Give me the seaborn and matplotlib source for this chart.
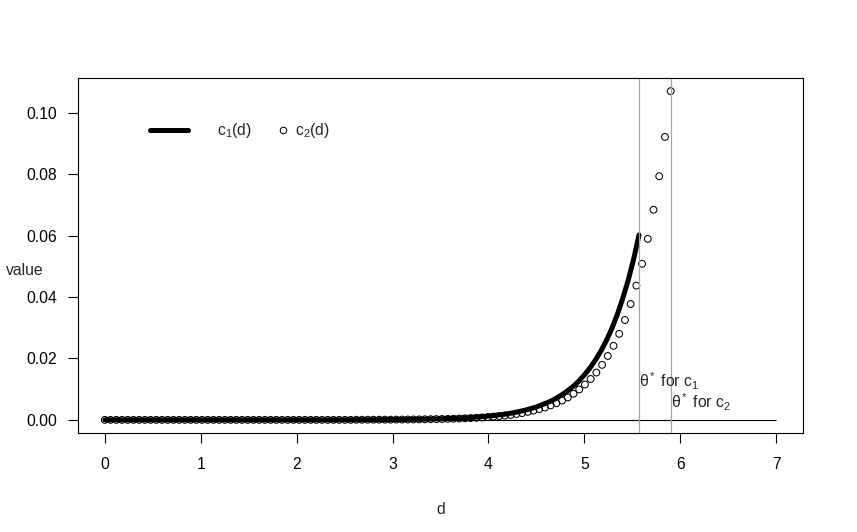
import numpy as np
import seaborn as sns
import matplotlib
matplotlib.use("Agg")
import matplotlib.pyplot as plt
from matplotlib.lines import Line2D

# thresholds (grey vertical lines)
theta1 = 5.57
theta2 = 5.9

# grid of d values for each curve (100 points each)
d1 = np.linspace(0, theta1, 100)
d2 = np.linspace(0, theta2, 100)

# c1(d): thick line
c1 = [0.0] * 44 + [0.00003, 0.00003, 0.00004, 0.00004, 0.00005, 0.00005, 0.00006, 0.00007,
                   0.00008, 0.0001, 0.00011, 0.00013, 0.00015, 0.00017, 0.00019, 0.00022,
                   0.00026, 0.0003, 0.00034, 0.00039, 0.00045, 0.00052, 0.0006, 0.00069,
                   0.00079, 0.00091, 0.00105, 0.0012, 0.0014, 0.0016, 0.0018, 0.0021,
                   0.0024, 0.0028, 0.0032, 0.0037, 0.0042, 0.0049, 0.0056, 0.0064,
                   0.0074, 0.0085, 0.0098, 0.0112, 0.0129, 0.0149, 0.0171, 0.0197,
                   0.0226, 0.0260, 0.0299, 0.0344, 0.0396, 0.0455, 0.0523, 0.0602]

# c2(d): open circles
c2 = [0.0] * 44 + [0.00003, 0.00003, 0.00004, 0.00005, 0.00005, 0.00006, 0.00007, 0.00008,
                   0.0001, 0.00011, 0.00013, 0.00015, 0.00018, 0.00021, 0.00024, 0.00028,
                   0.00032, 0.00037, 0.00043, 0.0005, 0.00058, 0.00067, 0.00078, 0.0009,
                   0.00105, 0.0012, 0.0014, 0.0016, 0.0019, 0.0022, 0.0026, 0.0030,
                   0.0035, 0.0040, 0.0047, 0.0054, 0.0063, 0.0073, 0.0085, 0.0099,
                   0.0115, 0.0133, 0.0154, 0.0179, 0.0208, 0.0241, 0.0280, 0.0325,
                   0.0377, 0.0437, 0.0508, 0.0589, 0.0684, 0.0793, 0.0921, 0.1070]

xticks = [0, 1, 2, 3, 4, 5, 6, 7]
yticks = [0.00, 0.02, 0.04, 0.06, 0.08, 0.10]

sns.set_style("white")
plt.rcParams["font.family"] = ["Liberation Sans", "DejaVu Sans"]
plt.rcParams["mathtext.fontset"] = "custom"
plt.rcParams["mathtext.rm"] = "Liberation Sans"
plt.rcParams["mathtext.it"] = "Liberation Sans:italic"
plt.rcParams["mathtext.default"] = "regular"

fs = 11.3
fig = plt.figure(figsize=(8.57, 5.32), dpi=100)
ax = fig.add_axes([78 / 857, 1 - 433 / 532, 725 / 857, 355 / 532])

sns.lineplot(x=d1, y=c1, color="black", lw=3.6, ax=ax, sort=False,
             solid_capstyle="round")
sns.scatterplot(x=d2, y=c2, marker="o", s=24, facecolors="none",
                edgecolor="black", linewidth=0.75, ax=ax)

# reference lines
ax.hlines(0, min(xticks), max(xticks), color="black", lw=0.8)
ax.axvline(theta1, color="#a4a4a4", lw=0.9)
ax.axvline(theta2, color="#a4a4a4", lw=0.9)

ax.text(theta1, 0.0125, "θ$^*$ for c$_1$", fontsize=fs, ha="left", va="center")
ax.text(theta2, 0.0056, "θ$^*$ for c$_2$", fontsize=fs, ha="left", va="center")

# axes like base R: 4% padding
span_x = max(xticks) - min(xticks)
ax.set_xlim(min(xticks) - 0.04 * span_x, max(xticks) + 0.04 * span_x)
ymax = max(c2)
ax.set_ylim(-0.04 * ymax, ymax * 1.04)

ax.set_xticks(xticks)
ax.set_xticklabels([str(t) for t in xticks])
ax.set_yticks(yticks)
ax.set_yticklabels(["%.2f" % t for t in yticks])
ax.tick_params(axis="both", direction="out", length=7, width=0.8, color="black",
               labelsize=fs, labelcolor="black")
ax.tick_params(axis="x", pad=10, bottom=True)
ax.tick_params(axis="y", pad=8, left=True)

for sp in ax.spines.values():
    sp.set_color("black")
    sp.set_linewidth(0.8)

ax.set_xlabel("d", fontsize=fs)
ax.xaxis.set_label_coords(0.5, -0.193)
ax.set_ylabel("value", fontsize=fs, rotation=0, ha="center", va="center")
ax.yaxis.set_label_coords(-0.074, 0.457)

# legend, two pieces like the R legend
line_h = Line2D([], [], color="black", lw=3.6, solid_capstyle="round")
pts_h = Line2D([], [], color="black", linestyle="none", marker="o",
               markersize=4.7, markerfacecolor="none", markeredgewidth=0.75)
leg1 = ax.legend([line_h], ["c$_1$(d)"], loc="center left",
                 bbox_to_anchor=(0.0993, 0.851), frameon=False, fontsize=fs,
                 handlelength=2.4, handletextpad=1.9, borderpad=0, borderaxespad=0)
ax.add_artist(leg1)
ax.legend([pts_h], ["c$_2$(d)"], loc="center left",
          bbox_to_anchor=(0.274, 0.851), frameon=False, fontsize=fs,
          handlelength=0.8, handletextpad=0.35, borderpad=0, borderaxespad=0,
          numpoints=1)

fig.savefig("out.png", dpi=100)
